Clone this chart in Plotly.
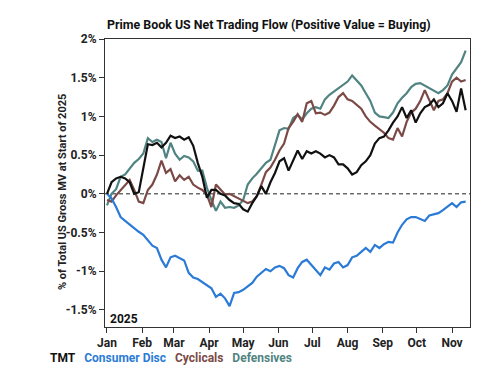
import pandas as pd
import plotly.graph_objects as go

dates = pd.date_range("2025-01-01", periods=80, freq="4D")

tmt = [0.0, 0.15, 0.2, 0.22, 0.2, 0.15, 0.0, 0.02, 0.33, 0.64,
       0.63, 0.66, 0.6, 0.66, 0.75, 0.72, 0.74, 0.70, 0.73, 0.62,
       0.40, 0.22, -0.05, 0.05, 0.05, 0.0, -0.02, -0.08, -0.12, -0.13,
       -0.2, -0.23, -0.12, -0.03, 0.1, 0.0, 0.15, 0.27, 0.42, 0.46,
       0.30, 0.42, 0.56, 0.45, 0.55, 0.52, 0.55, 0.52, 0.47, 0.50,
       0.47, 0.38, 0.38, 0.33, 0.25, 0.28, 0.37, 0.42, 0.50, 0.65,
       0.72, 0.74, 0.82, 0.92, 1.0, 1.12, 0.98, 1.08, 0.92, 1.04,
       1.12, 1.15, 1.22, 1.12, 1.17, 1.30, 1.20, 1.06, 1.36, 1.08]

consumer_disc = [0.0, -0.06, -0.17, -0.3, -0.35, -0.40, -0.44, -0.49, -0.53, -0.60,
                 -0.67, -0.70, -0.85, -0.95, -0.82, -0.80, -0.83, -0.86, -1.02, -1.08,
                 -1.10, -1.14, -1.18, -1.22, -1.33, -1.29, -1.35, -1.45, -1.28, -1.27,
                 -1.24, -1.20, -1.15, -1.07, -1.02, -0.97, -1.0, -0.95, -0.93, -0.96,
                 -1.05, -1.08, -0.96, -0.88, -0.85, -0.92, -0.98, -1.05, -0.95, -0.98,
                 -0.90, -0.88, -0.95, -0.92, -0.82, -0.80, -0.75, -0.70, -0.75, -0.66,
                 -0.70, -0.65, -0.62, -0.63, -0.50, -0.40, -0.33, -0.30, -0.30, -0.33,
                 -0.35, -0.28, -0.26, -0.25, -0.21, -0.16, -0.12, -0.17, -0.11, -0.10]

cyclicals = [-0.08, -0.10, -0.02, 0.05, 0.12, 0.18, 0.05, -0.10, -0.12, 0.05,
             0.12, 0.25, 0.43, 0.27, 0.32, 0.16, 0.24, 0.18, 0.22, 0.12,
             0.08, 0.05, -0.01, -0.17, 0.12, 0.05, -0.01, 0.0, -0.03, -0.05,
             -0.08, -0.12, -0.10, -0.03, 0.12, 0.28, 0.34, 0.44, 0.56, 0.65,
             0.85, 0.93, 1.03, 0.93, 1.17, 1.20, 1.04, 1.05, 1.02, 1.05,
             1.14, 1.25, 1.30, 1.22, 1.20, 1.15, 1.10, 1.00, 0.93, 0.88,
             0.83, 0.79, 0.72, 0.70, 0.85, 0.74, 0.93, 1.05, 1.10, 1.20,
             1.34, 1.20, 1.08, 1.20, 1.22, 1.30, 1.45, 1.50, 1.45, 1.47]

defensives = [-0.15, 0.0, 0.06, 0.22, 0.25, 0.32, 0.40, 0.45, 0.52, 0.72,
              0.67, 0.70, 0.67, 0.46, 0.66, 0.52, 0.44, 0.49, 0.47, 0.42,
              0.30, 0.30, 0.08, -0.08, -0.22, -0.10, -0.18, -0.17, -0.18, -0.15,
              -0.08, 0.12, 0.20, 0.26, 0.33, 0.40, 0.44, 0.62, 0.82, 0.85,
              0.84, 0.98, 1.02, 0.96, 1.04, 1.10, 1.12, 1.10, 1.22, 1.28,
              1.32, 1.36, 1.40, 1.45, 1.53, 1.46, 1.40, 1.30, 1.20, 1.05,
              1.00, 0.99, 0.98, 1.05, 1.17, 1.24, 1.30, 1.38, 1.42, 1.43,
              1.40, 1.36, 1.33, 1.30, 1.34, 1.40, 1.54, 1.62, 1.70, 1.85]

series_names = ["TMT", "Consumer Disc", "Cyclicals", "Defensives"]
series_colors = ["#111111", "#2b7bd6", "#7b4a46", "#4f8482"]
series_values = [tmt, consumer_disc, cyclicals, defensives]

y_tick_vals = [2, 1.5, 1, 0.5, 0, -0.5, -1, -1.5]
y_tick_text = ["2%", "1.5%", "1%", "0.5%", "0%", "-0.5%", "-1%", "-1.5%"]
month_ticks = pd.date_range("2025-01-01", "2025-11-01", freq="MS")
month_labels = ["Jan", "Feb", "Mar", "Apr", "May", "Jun", "Jul", "Aug", "Sep", "Oct", "Nov"]

FONT = "Roboto"

fig = go.Figure()
for idx in [3, 2, 1, 0]:
    fig.add_trace(go.Scatter(x=dates, y=series_values[idx], mode="lines",
                             name=series_names[idx],
                             line=dict(color=series_colors[idx], width=2.2),
                             showlegend=False))

fig.add_shape(type="line", xref="paper", x0=0, x1=1, yref="y", y0=0, y1=0,
              line=dict(color="#222", width=1, dash="4px,3px"), layer="below")

# page has an 8px body margin; work in window pixels and offset
OFF = 8
W, H = 500 - OFF, 378 - OFF
L, R, T, B = 105 - OFF, 30, 39 - OFF, 51
pw = W - L - R
ph = H - T - B

def px_x(p):
    return (p - OFF - L) / pw

def px_y(p):
    return (H - B - (p - OFF)) / ph

fig.update_layout(
    width=W, height=H,
    margin=dict(l=L, r=R, t=T, b=B),
    paper_bgcolor="white", plot_bgcolor="white",
    font=dict(family=FONT, color="#222"),
    xaxis=dict(range=["2024-12-30 06:00", "2025-11-16 20:00"],
               tickvals=month_ticks, ticktext=month_labels,
               ticks="outside", ticklen=5, tickcolor="#333",
               tickfont=dict(family=FONT, size=12, color="#222", weight="bold"),
               showgrid=False, showline=True, linecolor="#333", linewidth=1,
               mirror=True, zeroline=False),
    yaxis=dict(range=[-1.72, 2], tickvals=y_tick_vals, ticktext=y_tick_text,
               ticks="outside", ticklen=5, tickcolor="#333",
               tickfont=dict(family=FONT, size=12, color="#222", weight="bold"),
               showgrid=False, showline=True, linecolor="#333", linewidth=1,
               mirror=True, zeroline=False),
)

fig.add_annotation(text="<b>Prime Book US Net Trading Flow (Positive Value = Buying)</b>",
                   xref="paper", yref="paper", x=px_x(269), y=px_y(24),
                   xanchor="center", yanchor="middle", showarrow=False,
                   font=dict(family=FONT, size=12.4, color="#111"))

fig.add_annotation(text="<b>% of Total US Gross MV at Start of 2025</b>",
                   xref="paper", yref="paper", x=px_x(62), y=px_y(192),
                   xanchor="center", yanchor="middle", textangle=-90, showarrow=False,
                   font=dict(family=FONT, size=11, color="#222"))

fig.add_annotation(text="<b>2025</b>",
                   xref="paper", yref="paper", x=px_x(108), y=px_y(319),
                   xanchor="left", yanchor="middle", showarrow=False,
                   font=dict(family=FONT, size=12, color="#111"))

legend_text = "   ".join(
    f"<span style='color:{c}'><b>{n}</b></span>" for n, c in zip(series_names, series_colors)
)
fig.add_annotation(text=legend_text,
                   xref="paper", yref="paper", x=px_x(48), y=px_y(358),
                   xanchor="left", yanchor="middle", showarrow=False,
                   font=dict(family=FONT, size=12))

fig.write_html("out.html")
